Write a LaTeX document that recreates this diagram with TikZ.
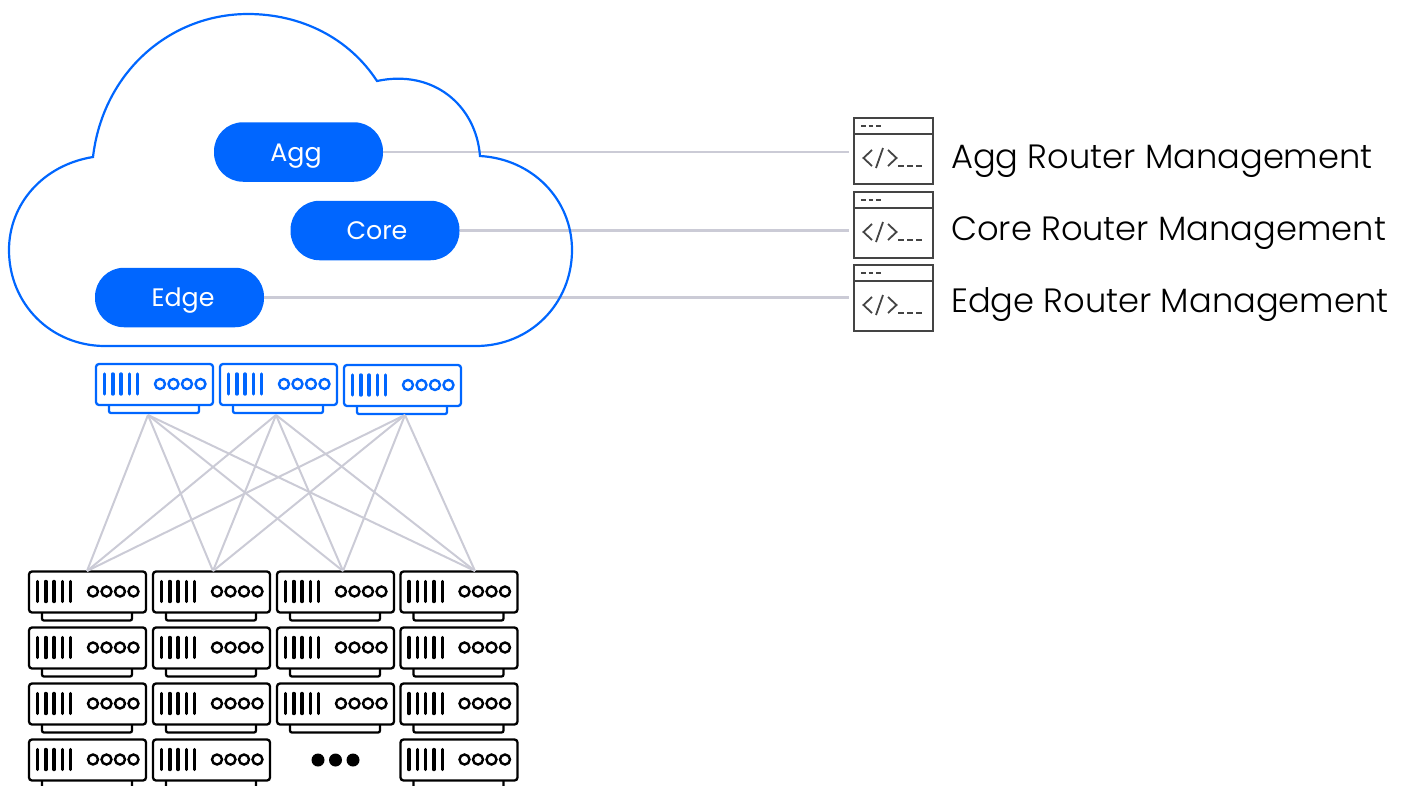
\documentclass[tikz,border=0pt]{standalone}
\usepackage{fontspec}
\usepackage{xcolor}
\setmainfont{Poppins Light}
\newfontfamily\pillfont{Poppins}
\usetikzlibrary{calc, positioning}
\definecolor{netblue}{HTML}{0066FF}
\definecolor{wiregray}{HTML}{CBCBD6}
\definecolor{iconink}{HTML}{444444}
\tikzset{
    wire/.style={wiregray, line width=2.4pt},
    pill/.style={fill=netblue, text=white, rounded corners=29pt, minimum width=169pt, minimum height=59.5pt, inner sep=0, text height=21pt, text depth=3pt, font=\pillfont\fontsize{25.3}{25.3}\selectfont},
    mgmt/.style={anchor=west, inner sep=0, font=\fontsize{33.7}{33.7}\selectfont},
    server/.pic={
        \draw[line width=2.3pt, rounded corners=3pt] (0,0) rectangle (117,41);
        \draw[line width=2.3pt, rounded corners=2pt] (13,41) -- (13,49) -- (103,49) -- (103,41);
        \foreach \x in {8.5,16.8,25.1,33.4,41.7} \draw[line width=3.4pt, line cap=round] (\x,10) -- (\x,30);
        \foreach \x in {64,77.5,91,104.5} \draw[line width=2.4pt] (\x,20) circle (5);
    },
    window/.pic={
        \draw[iconink, line width=2.2pt] (0,0) rectangle (79,66);
        \draw[iconink, line width=2.2pt] (0,16) -- (79,16);
        \draw[iconink, line width=1.6pt, dash pattern=on 4.5pt off 3pt] (7,8) -- (27,8);
        \draw[iconink, line width=1.8pt] (18,32) -- (9.5,40) -- (18,48);
        \draw[iconink, line width=1.8pt] (22,50) -- (29,30);
        \draw[iconink, line width=1.8pt] (34,32) -- (42.5,40) -- (34,48);
        \draw[iconink, line width=2pt, dash pattern=on 6pt off 3pt] (44,48) -- (70,48);
    },
}
\begin{document}
\begin{tikzpicture}[x=1pt, y=-1pt]
    \clip (0,0) rectangle (1406,785);

    % routers
    \node[pill] (agg) at (298.5,152) {\hspace*{-5pt}Agg};
    \node[pill] (core) at (375,230.5) {\hspace*{4pt}Core};
    \node[pill] (edge) at (179.5,297.5) {\hspace*{7pt}Edge};

    % management windows
    \pic (aggwin) at (854,118) {window};
    \pic (corewin) at (854,192) {window};
    \pic (edgewin) at (854,265) {window};
    \coordinate (aggend) at (849,152);
    \coordinate (coreend) at (849,230.5);
    \coordinate (edgeend) at (849,297.5);
    \foreach \n in {agg,core,edge} \draw[wire] (\n.east) -- (\n end);

    \node[mgmt] (agglabel) at (951,161) {Agg Router Management};
    \node[mgmt] (corelabel) at (951,233) {Core Router Management};
    \node[mgmt] (edgelabel) at (951,305) {Edge Router Management};

    % cloud
    \draw[netblue, line width=2.2pt] (93,157)
        .. controls (103,72) and (170,14) .. (248,14)
        .. controls (301,14) and (349,38) .. (377,81)
        .. controls (433,69) and (476,105) .. (480,156)
        .. controls (533,159) and (572,200) .. (572,250)
        .. controls (572,304) and (530,346) .. (476,346)
        -- (105,346)
        .. controls (51,346) and (9,304) .. (9,250)
        .. controls (9,204) and (43,165) .. (93,157) -- cycle;

    % blue row
    \pic[color=netblue] (blue1) at (96,364) {server};
    \pic[color=netblue] (blue2) at (220,364) {server};
    \pic[color=netblue] (blue3) at (344,365) {server};

    % black rows
    \foreach \col/\x in {1/29,2/153,3/277,4/400.5}
        \foreach \row/\y in {1/571.5,2/627.5,3/683.5,4/739.5} {
            \pgfmathparse{int(\col*10+\row)}
            \ifnum\pgfmathresult=34 \else \pic (rack\col\row) at (\x,\y) {server}; \fi
        }
    \foreach \x in {318,335.5,353} \fill (\x,760) circle (6.5);

    % fabric
    \coordinate (up1) at (148,415);
    \coordinate (up2) at (276,415);
    \coordinate (up3) at (405,415);
    \coordinate (down1) at (87,571);
    \coordinate (down2) at (213,571);
    \coordinate (down3) at (343,571);
    \coordinate (down4) at (475,571);
    \foreach \u in {1,2,3} \foreach \d in {1,2,3,4} \draw[wiregray, line width=2pt] (up\u) -- (down\d);
\end{tikzpicture}
\end{document}
